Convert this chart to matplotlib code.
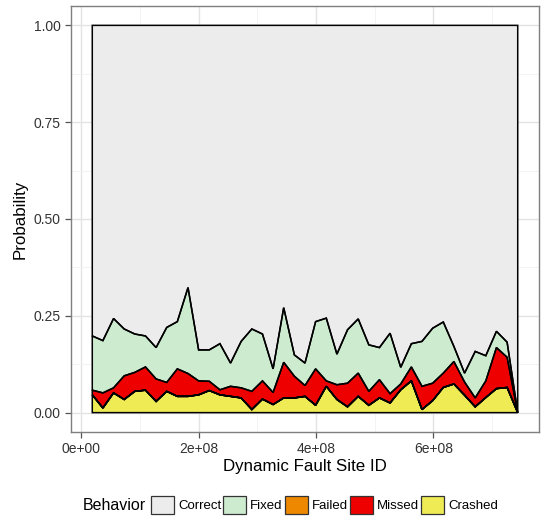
import matplotlib
matplotlib.use("Agg")
import matplotlib.pyplot as plt
from matplotlib.patches import Patch
from matplotlib.ticker import FuncFormatter, MultipleLocator
import numpy as np

plt.rcParams.update({"font.family": ["Liberation Sans", "DejaVu Sans"]})

# fault site ids (millions)
site_id_m = [18.7, 36.8, 55.0, 73.1, 91.2, 109.4, 127.5, 145.6, 163.7, 181.9,
             200.0, 218.1, 236.3, 254.4, 272.5, 290.7, 308.8, 326.9, 345.0, 363.2,
             381.3, 399.4, 417.6, 435.7, 453.8, 472.0, 490.1, 508.2, 526.3, 544.5,
             562.6, 580.7, 598.9, 617.0, 635.1, 653.3, 671.4, 689.5, 707.6, 725.8, 743.9]
crashed = [0.046, 0.012, 0.051, 0.034, 0.055, 0.058, 0.029, 0.055, 0.042, 0.042,
           0.046, 0.057, 0.046, 0.042, 0.038, 0.008, 0.035, 0.021, 0.038, 0.038,
           0.042, 0.019, 0.068, 0.034, 0.015, 0.042, 0.019, 0.038, 0.025, 0.059,
           0.082, 0.008, 0.031, 0.065, 0.074, 0.045, 0.015, 0.039, 0.062, 0.065, 0.0]
failed = [0.0] * 41
missed = [0.012, 0.039, 0.013, 0.061, 0.049, 0.060, 0.058, 0.023, 0.071, 0.059,
          0.036, 0.024, 0.013, 0.026, 0.026, 0.047, 0.047, 0.031, 0.092, 0.056,
          0.028, 0.094, 0.014, 0.038, 0.061, 0.060, 0.036, 0.047, 0.024, 0.015,
          0.036, 0.060, 0.045, 0.037, 0.058, 0.034, 0.023, 0.043, 0.106, 0.078, 0.0]
fixed = [0.140, 0.135, 0.179, 0.121, 0.099, 0.080, 0.081, 0.142, 0.122, 0.222,
         0.080, 0.081, 0.119, 0.060, 0.120, 0.161, 0.121, 0.061, 0.141, 0.055,
         0.058, 0.122, 0.162, 0.079, 0.138, 0.140, 0.120, 0.083, 0.156, 0.043,
         0.060, 0.116, 0.142, 0.132, 0.039, 0.023, 0.120, 0.065, 0.042, 0.039, 0.0]

x = np.array(site_id_m) * 1e6
correct = 1 - (np.array(crashed) + np.array(failed) + np.array(missed) + np.array(fixed))

labels = ["Correct", "Fixed", "Failed", "Missed", "Crashed"]
colors = {"Correct": "#ececec", "Fixed": "#cdebcf", "Failed": "#ee8800",
          "Missed": "#ee0000", "Crashed": "#eeeb55"}
series = {"Crashed": np.array(crashed), "Failed": np.array(failed), "Missed": np.array(missed),
          "Fixed": np.array(fixed), "Correct": correct}

W, H = 547, 517
fig = plt.figure(figsize=(W / 100, H / 100), dpi=100)
ax = fig.add_axes([71 / W, 1 - 432 / H, (539 - 71) / W, (432 - 6) / H])

# stacked areas, bottom to top, each with black outline
base = np.zeros_like(x)
for name in ["Crashed", "Failed", "Missed", "Fixed", "Correct"]:
    top = base + series[name]
    ax.fill_between(x, base, top, facecolor=colors[name], edgecolor="none", zorder=2)
    ax.fill(np.concatenate([x, x[::-1]]), np.concatenate([top, base[::-1]]),
            facecolor="none", edgecolor="black", lw=1.1, zorder=3)
    base = top

xr = x[-1] - x[0]
ax.set_xlim(x[0] - 0.05 * xr, x[-1] + 0.05 * xr)
ax.set_ylim(-0.05, 1.05)
ax.xaxis.set_major_locator(MultipleLocator(2e8))
ax.xaxis.set_minor_locator(MultipleLocator(1e8))
ax.yaxis.set_major_locator(MultipleLocator(0.25))
ax.yaxis.set_minor_locator(MultipleLocator(0.125))
ax.xaxis.set_major_formatter(FuncFormatter(lambda v, p: "%.0e" % v))
ax.yaxis.set_major_formatter(FuncFormatter(lambda v, p: "%.2f" % v))
ax.grid(True, which="major", color="#e3e3e3", lw=1.0, zorder=0)
ax.grid(True, which="minor", color="#f1f1f1", lw=0.6, zorder=0)
ax.set_axisbelow(True)
for sp in ax.spines.values():
    sp.set_color("#7f7f7f")
    sp.set_linewidth(1.0)
ax.tick_params(which="major", length=4, color="#555555", labelsize=10, labelcolor="#333333", width=0.9)
ax.tick_params(which="minor", length=0)
ax.set_xlabel("Dynamic Fault Site ID", fontsize=12.2, labelpad=2)
ax.set_ylabel("Probability", fontsize=12.2, labelpad=4)

# legend along the bottom, title on the left
handles = [Patch(facecolor=colors[n], edgecolor="#333333", lw=0.9) for n in labels]
fig.legend(handles, labels, loc="center left", bbox_to_anchor=(151 / W, 1 - 505 / H), ncol=5,
           frameon=False, fontsize=9.5, handlelength=1.75, handleheight=1.75,
           handletextpad=0.3, columnspacing=0.15, borderpad=0, borderaxespad=0)
fig.text(83 / W, 1 - 505 / H, "Behavior", fontsize=11.5, ha="left", va="center")

fig.savefig("out.png", dpi=100)
